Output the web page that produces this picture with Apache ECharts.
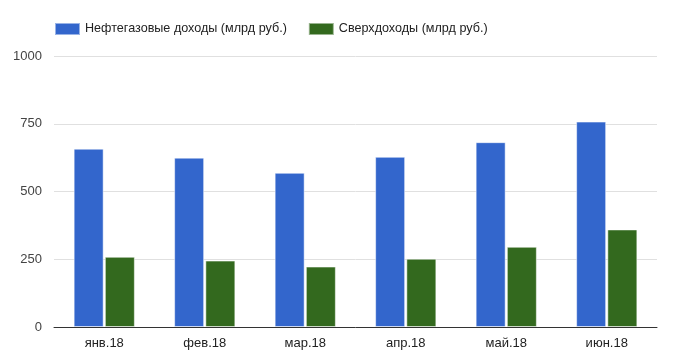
<!DOCTYPE html>
<html><head><meta charset="utf-8">
<script src="https://cdn.jsdelivr.net/npm/echarts@6/dist/echarts.min.js"></script>
<style>html,body{margin:0;padding:0;background:#fff}#c{width:679px;height:364px}</style>
</head><body><div id="c"></div>
<script>
const categories = ['янв.18','фев.18','мар.18','апр.18','май.18','июн.18'];
const oilGas = [658, 625, 569, 628, 682, 758];
const excess = [259, 245, 223, 252, 296, 360];
const seriesNames = ['Нефтегазовые доходы (млрд руб.)', 'Сверхдоходы (млрд руб.)'];
const yTicks = [0, 250, 500, 750, 1000];

const chart = echarts.init(document.getElementById('c'));
chart.setOption({
  animation: false,
  textStyle: {fontFamily: '"Liberation Sans", Arial, sans-serif'},
  legend: {
    left: 54, top: 22, padding: 0, itemWidth: 25, itemHeight: 12, itemGap: 21,
    icon: 'rect',
    textStyle: {fontSize: 12.6, color: '#222'},
    data: seriesNames
  },
  grid: {left: 54, right: 22, top: 56, bottom: 37, containLabel: false},
  xAxis: {
    type: 'category', data: categories,
    axisLine: {lineStyle: {color: '#333', width: 1}},
    axisTick: {show: false},
    axisLabel: {fontSize: 13, color: '#222', margin: 10}
  },
  yAxis: {
    type: 'value', min: yTicks[0], max: yTicks[yTicks.length-1], interval: 250,
    axisLine: {show: false}, axisTick: {show: false},
    axisLabel: {fontSize: 13, color: '#444', margin: 12, formatter: v => String(v)},
    splitLine: {lineStyle: {color: '#e0e0e0', width: 1}}
  },
  series: [
    {name: seriesNames[0], type: 'bar', data: oilGas, barWidth: 30, barGap: '4%',
     itemStyle: {color: '#3366cc', borderColor: 'rgba(255,255,255,0.5)', borderWidth: 1}},
    {name: seriesNames[1], type: 'bar', data: excess, barWidth: 30,
     itemStyle: {color: '#33691e', borderColor: 'rgba(255,255,255,0.5)', borderWidth: 1}}
  ]
});
</script></body></html>
